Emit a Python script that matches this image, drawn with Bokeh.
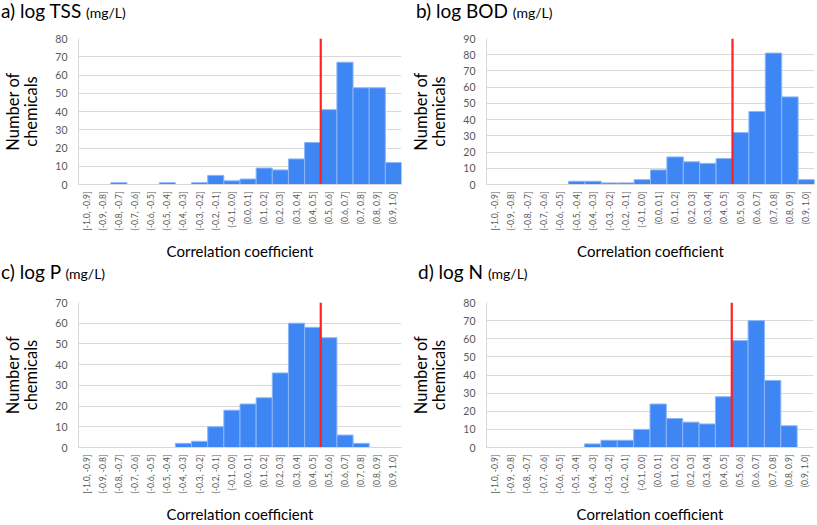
import math
from bokeh.plotting import figure
from bokeh.layouts import column, row
from bokeh.models import Range1d, FactorRange, SingleIntervalTicker, Div
from bokeh.embed import file_html
from bokeh.resources import INLINE

bins = ["[-1.0, -0.9]", "(-0.9, -0.8]", "(-0.8, -0.7]", "(-0.7, -0.6]", "(-0.6, -0.5]",
        "(-0.5, -0.4]", "(-0.4, -0.3]", "(-0.3, -0.2]", "(-0.2, -0.1]", "(-0.1, 0.0]",
        "(0.0, 0.1]", "(0.1, 0.2]", "(0.2, 0.3]", "(0.3, 0.4]", "(0.4, 0.5]",
        "(0.5, 0.6]", "(0.6, 0.7]", "(0.7, 0.8]", "(0.8, 0.9]", "(0.9, 1.0]"]

tss = [0, 0, 1, 0, 0, 1, 0, 1, 5, 2, 3, 9, 8, 14, 23, 41, 67, 53, 53, 12]
bod = [0, 0, 0, 0, 0, 2, 2, 1, 1, 3, 9, 17, 14, 13, 16, 32, 45, 81, 54, 3]
phos = [0, 0, 0, 0, 0, 0, 2, 3, 10, 18, 21, 24, 36, 60, 58, 53, 6, 2, 0, 0]
nitr = [0, 0, 0, 0, 0, 0, 2, 4, 4, 10, 24, 16, 14, 13, 28, 59, 70, 37, 12, 0]

titles = ["a) log TSS", "b) log BOD", "c) log P", "d) log N"]
unit = "(mg/L)"
y_max = [80, 90, 70, 80]
threshold_bin = "(0.5, 0.6]"   # threshold r = 0.5 lies at the lower edge of this bin

FONT = "Lato"
BAR = "#3f86f5"
EDGE = "#8ab6f8"
GRID = "#d9d9d9"
TICK = "#595959"


def panel(counts, ymax, width, height, left, right, top, bottom):
    p = figure(width=width, height=height, x_range=FactorRange(*bins),
               y_range=Range1d(0, ymax), output_backend="svg", toolbar_location=None,
               min_border_left=left, min_border_right=right,
               min_border_top=top, min_border_bottom=bottom)
    p.outline_line_color = None
    p.background_fill_color = "white"
    p.border_fill_color = "white"
    p.vbar(x=bins, top=counts, width=1.0, fill_color=BAR, line_color=EDGE, line_width=1)
    p.line(x=[(threshold_bin, -0.5), (threshold_bin, -0.5)], y=[0, ymax],
           line_color="#ff2020", line_width=2.2)

    p.xgrid.grid_line_color = None
    p.ygrid.grid_line_color = GRID
    p.ygrid.grid_line_width = 1

    p.yaxis.ticker = SingleIntervalTicker(interval=10)
    p.yaxis.axis_line_color = GRID
    p.yaxis.major_tick_line_color = None
    p.yaxis.minor_tick_line_color = None
    p.yaxis.major_tick_out = 0
    p.yaxis.major_tick_in = 0
    p.yaxis.major_label_standoff = 7
    p.yaxis.major_label_text_font = FONT
    p.yaxis.major_label_text_font_size = "10.5px"
    p.yaxis.major_label_text_color = TICK
    p.yaxis.axis_label = "Number of\nchemicals"
    p.yaxis.axis_label_text_font = FONT
    p.yaxis.axis_label_text_font_size = "16.5px"
    p.yaxis.axis_label_text_font_style = "normal"
    p.yaxis.axis_label_text_line_height = 0.9
    p.yaxis.axis_label_standoff = 11
    p.yaxis.axis_label_text_color = "black"

    p.xaxis.axis_line_color = GRID
    p.xaxis.major_tick_line_color = None
    p.xaxis.minor_tick_line_color = None
    p.xaxis.major_tick_out = 0
    p.xaxis.major_tick_in = 0
    p.xaxis.major_label_orientation = math.pi / 2
    p.xaxis.major_label_standoff = 7
    p.xaxis.major_label_text_font = FONT
    p.xaxis.major_label_text_font_size = "8.5px"
    p.xaxis.major_label_text_color = TICK
    p.xaxis.axis_label = "Correlation coefficient"
    p.xaxis.axis_label_text_font = FONT
    p.xaxis.axis_label_text_font_size = "15px"
    p.xaxis.axis_label_text_font_style = "normal"
    p.xaxis.axis_label_standoff = 8
    p.xaxis.axis_label_text_color = "black"
    return p


def heading(title, width, height, pad):
    return Div(text=f'{title} <span style="font-size:14px">{unit}</span>',
               width=width, height=height, margin=(0, 0, 0, 0),
               styles={"font-family": FONT, "font-size": "19px", "line-height": f"{height}px",
                       "padding-left": f"{pad}px", "color": "black",
                       "white-space": "nowrap", "box-sizing": "border-box"})


pa = panel(tss, y_max[0], 408, 240, 65, 7, 16, 76)
pb = panel(bod, y_max[1], 409, 240, 70, 3, 16, 76)
pc = panel(phos, y_max[2], 408, 243, 65, 7, 20, 75)
pd = panel(nitr, y_max[3], 409, 243, 69, 4, 20, 75)

ha = heading(titles[0], 408, 22, 1)
hb = heading(titles[1], 409, 22, 8)
hc = heading(titles[2], 408, 20, 1)
hd = heading(titles[3], 409, 20, 10)

layout = column(row(column(ha, pa), column(hb, pb)),
                row(column(hc, pc), column(hd, pd)))
open("out.html", "w").write(file_html(layout, INLINE))
